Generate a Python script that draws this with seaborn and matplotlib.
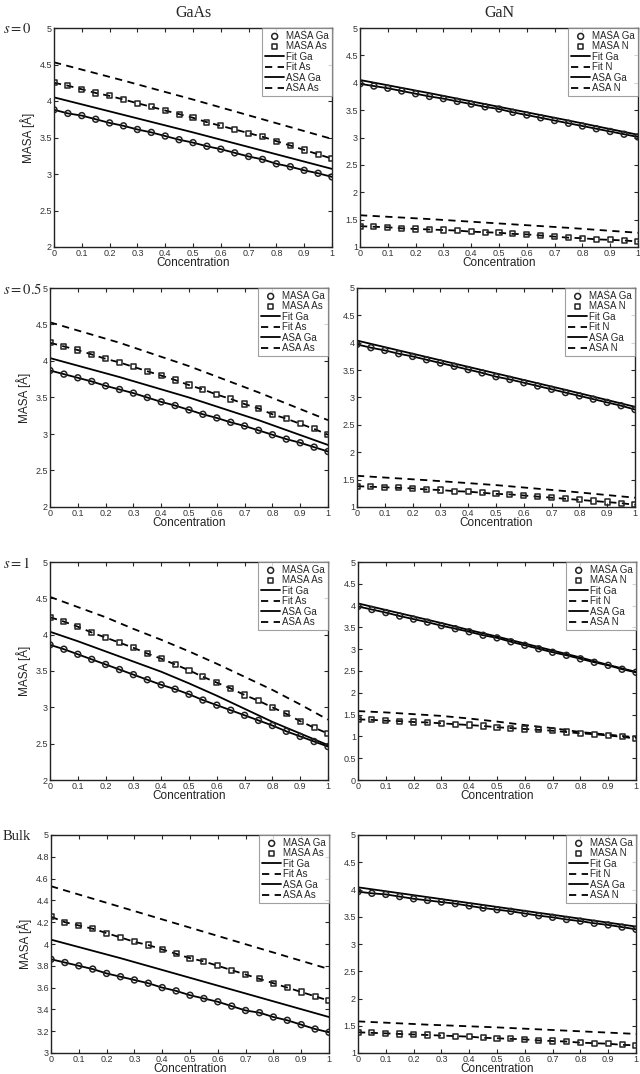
import matplotlib
matplotlib.use("Agg")
import matplotlib.pyplot as plt
from matplotlib.ticker import MultipleLocator, FormatStrFormatter
import seaborn as sns

# concentration grid of the MASA points
conc = [0, 0.05, 0.1, 0.15, 0.2, 0.25, 0.3, 0.35, 0.4, 0.45, 0.5,
        0.55, 0.6, 0.65, 0.7, 0.75, 0.8, 0.85, 0.9, 0.95, 1.0]
asa_x = [0, 0.25, 0.5, 0.75, 1.0]
asa_x_fine = [0, 0.1, 0.2, 0.3, 0.4, 0.5, 0.6, 0.7, 0.8, 0.9, 1.0]

# GaAs, s = 0
gaas_s0_masa_ga = [3.88, 3.83, 3.80, 3.75, 3.70, 3.66, 3.61, 3.57, 3.52, 3.47, 3.43,
                   3.38, 3.34, 3.29, 3.24, 3.20, 3.14, 3.10, 3.05, 3.01, 2.96]
gaas_s0_masa_as = [4.25, 4.21, 4.16, 4.11, 4.07, 4.02, 3.97, 3.92, 3.87, 3.82, 3.77,
                   3.71, 3.66, 3.61, 3.56, 3.51, 3.45, 3.39, 3.33, 3.27, 3.21]
gaas_s0_asa_ga = [4.05, 3.81, 3.57, 3.32, 3.07]
gaas_s0_asa_as = [4.53, 4.28, 4.02, 3.75, 3.48]

# GaN, s = 0
gan_s0_masa_ga = [3.98, 3.94, 3.90, 3.85, 3.80, 3.75, 3.71, 3.66, 3.61, 3.56, 3.52,
                  3.46, 3.41, 3.36, 3.31, 3.26, 3.21, 3.16, 3.11, 3.06, 3.01]
gan_s0_masa_n = [1.38, 1.37, 1.36, 1.34, 1.33, 1.32, 1.31, 1.30, 1.28, 1.27, 1.26,
                 1.24, 1.23, 1.21, 1.19, 1.17, 1.16, 1.14, 1.13, 1.12, 1.10]
gan_s0_asa_ga = [4.05, 3.81, 3.56, 3.31, 3.05]
gan_s0_asa_n = [1.58, 1.51, 1.43, 1.35, 1.26]

# GaAs, s = 0.5
gaas_s05_masa_ga = [3.87, 3.82, 3.77, 3.72, 3.66, 3.61, 3.56, 3.50, 3.44, 3.39, 3.33,
                    3.27, 3.22, 3.16, 3.11, 3.05, 2.99, 2.93, 2.88, 2.82, 2.76]
gaas_s05_masa_as = [4.25, 4.20, 4.15, 4.09, 4.03, 3.98, 3.92, 3.86, 3.80, 3.74, 3.67,
                    3.61, 3.54, 3.48, 3.41, 3.35, 3.27, 3.21, 3.14, 3.07, 2.99]
gaas_s05_asa_ga = [4.04, 3.78, 3.50, 3.19, 2.85]
gaas_s05_asa_as = [4.53, 4.25, 3.93, 3.57, 3.19]

# GaN, s = 0.5
gan_s05_masa_ga = [3.97, 3.91, 3.86, 3.80, 3.75, 3.69, 3.63, 3.57, 3.51, 3.45, 3.38,
                   3.33, 3.27, 3.21, 3.15, 3.09, 3.03, 2.97, 2.91, 2.85, 2.78]
gan_s05_masa_n = [1.38, 1.37, 1.36, 1.35, 1.34, 1.32, 1.31, 1.29, 1.28, 1.26, 1.24,
                  1.23, 1.21, 1.19, 1.17, 1.15, 1.13, 1.11, 1.09, 1.07, 1.04]
gan_s05_asa_ga = [4.04, 3.74, 3.44, 3.14, 2.83]
gan_s05_asa_n = [1.57, 1.49, 1.40, 1.29, 1.17]

# GaAs, s = 1 (ASA curves read at 0.1 steps)
gaas_s1_masa_ga = [3.86, 3.80, 3.73, 3.66, 3.59, 3.52, 3.45, 3.38, 3.31, 3.25, 3.18,
                   3.10, 3.03, 2.96, 2.89, 2.82, 2.75, 2.67, 2.60, 2.53, 2.46]
gaas_s1_masa_as = [4.24, 4.18, 4.11, 4.03, 3.96, 3.89, 3.82, 3.74, 3.67, 3.59, 3.51,
                   3.42, 3.34, 3.26, 3.17, 3.09, 3.00, 2.91, 2.81, 2.72, 2.64]
gaas_s1_asa_ga = [4.04, 3.91, 3.77, 3.63, 3.49, 3.33, 3.16, 2.98, 2.80, 2.64, 2.48]
gaas_s1_asa_as = [4.52, 4.38, 4.24, 4.08, 3.93, 3.77, 3.60, 3.42, 3.24, 3.04, 2.83]

# GaN, s = 1
gan_s1_masa_ga = [3.98, 3.91, 3.84, 3.76, 3.69, 3.62, 3.54, 3.47, 3.40, 3.32, 3.26,
                  3.17, 3.09, 3.01, 2.93, 2.86, 2.78, 2.70, 2.63, 2.54, 2.47]
gan_s1_masa_n = [1.39, 1.38, 1.36, 1.35, 1.33, 1.32, 1.30, 1.28, 1.26, 1.24, 1.21,
                 1.19, 1.17, 1.15, 1.13, 1.10, 1.07, 1.05, 1.02, 0.99, 0.95]
gan_s1_asa_ga = [4.05, 3.90, 3.75, 3.60, 3.44, 3.29, 3.13, 2.97, 2.81, 2.64, 2.48]
gan_s1_asa_n = [1.58, 1.55, 1.51, 1.47, 1.41, 1.34, 1.26, 1.19, 1.10, 1.04, 0.98]

# GaAs, bulk
gaas_bulk_masa_ga = [3.86, 3.83, 3.80, 3.77, 3.73, 3.70, 3.67, 3.64, 3.60, 3.57, 3.53,
                     3.50, 3.47, 3.43, 3.39, 3.37, 3.33, 3.30, 3.26, 3.22, 3.19]
gaas_bulk_masa_as = [4.25, 4.20, 4.17, 4.14, 4.10, 4.06, 4.02, 3.99, 3.95, 3.91, 3.87,
                     3.84, 3.80, 3.76, 3.72, 3.68, 3.64, 3.60, 3.56, 3.52, 3.48]
gaas_bulk_asa_ga = [4.04, 3.87, 3.69, 3.51, 3.33]
gaas_bulk_asa_as = [4.53, 4.34, 4.15, 3.96, 3.77]

# GaN, bulk
gan_bulk_masa_ga = [3.96, 3.93, 3.91, 3.87, 3.83, 3.80, 3.77, 3.74, 3.70, 3.66, 3.63,
                    3.60, 3.56, 3.52, 3.49, 3.45, 3.42, 3.38, 3.35, 3.31, 3.27]
gan_bulk_masa_n = [1.38, 1.37, 1.36, 1.35, 1.34, 1.33, 1.32, 1.31, 1.30, 1.28, 1.27,
                   1.26, 1.25, 1.23, 1.22, 1.21, 1.19, 1.18, 1.17, 1.15, 1.14]
gan_bulk_asa_ga = [4.04, 3.86, 3.68, 3.50, 3.32]
gan_bulk_asa_n = [1.58, 1.52, 1.47, 1.41, 1.35]

row_labels = [r"$s = 0$", r"$s = 0.5$", r"$s = 1$", "Bulk"]
col_titles = ["GaAs", "GaN"]
anion = ["As", "N"]

panels = [
    [(gaas_s0_masa_ga, gaas_s0_masa_as, asa_x, gaas_s0_asa_ga, gaas_s0_asa_as),
     (gan_s0_masa_ga, gan_s0_masa_n, asa_x, gan_s0_asa_ga, gan_s0_asa_n)],
    [(gaas_s05_masa_ga, gaas_s05_masa_as, asa_x, gaas_s05_asa_ga, gaas_s05_asa_as),
     (gan_s05_masa_ga, gan_s05_masa_n, asa_x, gan_s05_asa_ga, gan_s05_asa_n)],
    [(gaas_s1_masa_ga, gaas_s1_masa_as, asa_x_fine, gaas_s1_asa_ga, gaas_s1_asa_as),
     (gan_s1_masa_ga, gan_s1_masa_n, asa_x_fine, gan_s1_asa_ga, gan_s1_asa_n)],
    [(gaas_bulk_masa_ga, gaas_bulk_masa_as, asa_x, gaas_bulk_asa_ga, gaas_bulk_asa_as),
     (gan_bulk_masa_ga, gan_bulk_masa_n, asa_x, gan_bulk_asa_ga, gan_bulk_asa_n)],
]

ylims = [[(2, 5, 0.5), (1, 5, 0.5)],
         [(2, 5, 0.5), (1, 5, 0.5)],
         [(2, 5, 0.5), (0, 5, 0.5)],
         [(3, 5, 0.2), (1, 5, 0.5)]]

sns.set_style("ticks")
plt.rcParams["font.family"] = ["Liberation Sans", "DejaVu Sans"]
plt.rcParams["mathtext.fontset"] = "stix"

W, H = 640, 1074
fig = plt.figure(figsize=(W / 100, H / 100), dpi=100)

# pixel boxes (top, bottom) and left edges of the two columns
rows_px = [(28, 247), (288, 507), (562, 780), (835, 1053)]
cols_px = [(54, 360), (50, 357), (50, 358), (51, 358)]
ax_w = 278
dash = (0, (4, 3))

for r in range(4):
    top, bot = rows_px[r]
    for c in range(2):
        x0 = cols_px[r][c]
        ax = fig.add_axes([x0 / W, 1 - bot / H, ax_w / W, (bot - top) / H])
        masa_ga, masa_x, ax_asa, asa_ga, asa_xs = panels[r][c]
        el = anion[c]

        sns.lineplot(x=conc, y=masa_ga, ax=ax, color="k", lw=1.3, label="Fit Ga")
        sns.lineplot(x=conc, y=masa_x, ax=ax, color="k", lw=1.3, ls=dash, label=f"Fit {el}")
        sns.lineplot(x=ax_asa, y=asa_ga, ax=ax, color="k", lw=1.3, label="ASA Ga")
        sns.lineplot(x=ax_asa, y=asa_xs, ax=ax, color="k", lw=1.3, ls=dash, label=f"ASA {el}")
        sns.scatterplot(x=conc, y=masa_ga, ax=ax, marker="o", s=18, facecolor="none",
                        edgecolor="#222222", linewidth=1.1, label="MASA Ga", zorder=5)
        sns.scatterplot(x=conc, y=masa_x, ax=ax, marker="s", s=14, facecolor="none",
                        edgecolor="#222222", linewidth=1.1, label=f"MASA {el}", zorder=5)

        ymin, ymax, step = ylims[r][c]
        ax.set_xlim(0, 1)
        ax.set_ylim(ymin, ymax)
        ax.xaxis.set_major_locator(MultipleLocator(0.1))
        ax.yaxis.set_major_locator(MultipleLocator(step))
        ax.xaxis.set_major_formatter(FormatStrFormatter("%g"))
        ax.yaxis.set_major_formatter(FormatStrFormatter("%g"))
        ax.tick_params(direction="in", top=True, right=True, length=3, width=0.8,
                       labelsize=6.5, labelcolor="#333333", pad=1.5)
        for sp in ax.spines.values():
            sp.set_linewidth(1.0)
            sp.set_color("#222222")

        ax.set_xlabel("Concentration", fontsize=8.5, labelpad=-0.5, color="#222222")
        if c == 0:
            ax.set_ylabel("MASA [Å]", fontsize=8.5, labelpad=3, color="#222222")
        else:
            ax.set_ylabel("")

        handles, labels = ax.get_legend_handles_labels()
        order = ["MASA Ga", f"MASA {el}", "Fit Ga", f"Fit {el}", "ASA Ga", f"ASA {el}"]
        hmap = dict(zip(labels, handles))
        leg = ax.legend([hmap[k] for k in order], order, loc="upper right",
                        fontsize=7, frameon=True, fancybox=False, borderaxespad=0,
                        handlelength=2.0, handletextpad=0.2, labelspacing=0.05,
                        borderpad=0.3)
        leg.get_frame().set_edgecolor("#888888")
        leg.get_frame().set_linewidth(0.8)

        if c == 0:
            fig.text(3 / W, 1 - (top + 1) / H, row_labels[r], fontsize=10.5,
                     family="Liberation Serif", va="center", ha="left")
        if r == 0:
            ax.set_title(col_titles[c], fontsize=11.5, family="Liberation Serif", pad=8)

fig.savefig("out.png", dpi=100)
